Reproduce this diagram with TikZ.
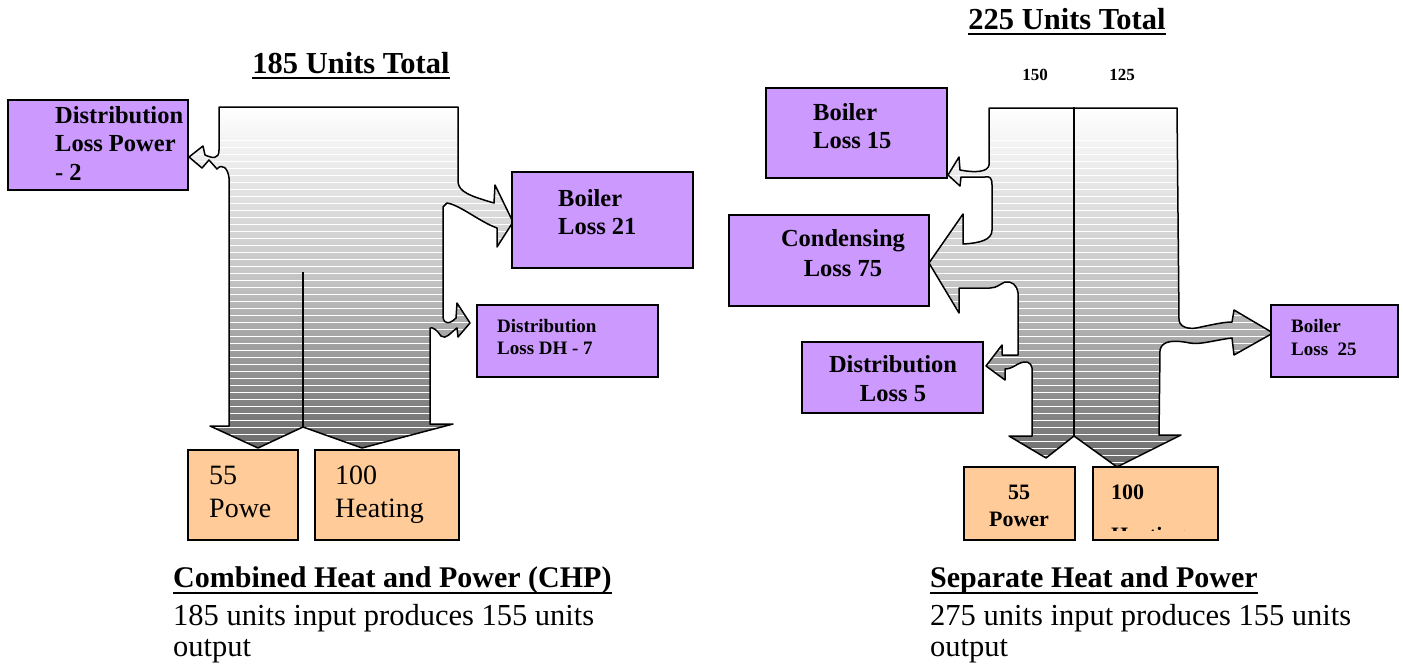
\documentclass[tikz,border=0pt]{standalone}
\usepackage{fontspec}
\setmainfont{Liberation Serif}
\definecolor{lilac}{HTML}{CC99FF}
\definecolor{peach}{HTML}{FFCC99}
\definecolor{flowgray}{HTML}{6A6A6A}
\definecolor{flowmid}{HTML}{C4C4C4}
\tikzset{
  pbox/.style={draw=black, line width=1.6pt, fill=lilac, rectangle},
  obox/.style={draw=black, line width=1.6pt, fill=peach, rectangle},
  flow/.style={draw=black, line width=1.5pt, line join=round},
  flowshade/.style={top color=white, bottom color=flowgray, middle color=flowmid},
  lbl/.style={inner sep=0pt, align=left, anchor=north west},
  clbl/.style={inner sep=0pt, align=center, anchor=north},
  bigb/.style={font=\fontsize{24.5pt}{28.5pt}\selectfont\bfseries},
  smallb/.style={font=\fontsize{19pt}{22.5pt}\selectfont\bfseries},
  titlef/.style={inner sep=0pt, font=\fontsize{30.5pt}{34pt}\selectfont\bfseries},
  capf/.style={inner sep=0pt, font=\fontsize{30pt}{34pt}\selectfont\bfseries},
  bodyf/.style={inner sep=0pt, align=left, anchor=north west, font=\fontsize{30.5pt}{31.5pt}\selectfont},
  uline/.style={line width=2.2pt},
  stripe/.style={white, line width=1pt}
}
\newcommand\chpflowpath{(219,107) -- (458,107) -- (458,182)
 .. controls (459,192) and (470,196) .. (494,203) -- (495,185) -- (513,222) -- (497,247) -- (497,228)
 .. controls (480,222) and (460,205) .. (447,203) -- (443,207) -- (443,317)
 .. controls (444,325) and (450,324) .. (456,318) -- (457,303) -- (470,323) -- (458,337) -- (457,328)
 .. controls (450,333) and (446,340) .. (441,336) .. controls (437,330) and (433,327) .. (430,328)
 -- (430,424) -- (453,424) -- (362,448) -- (303,427) -- (258,448) -- (210,426) -- (229,426)
 -- (229,178) .. controls (228,168) and (222,163) .. (217,169) -- (209,160) -- (202,168) -- (189,157)
 -- (203,146) -- (205,155) .. controls (212,158) and (219,160) .. (219,150) -- cycle}
\newcommand\sepflowpath{(989,108) -- (1177,108) -- (1179,320)
 .. controls (1180,328) and (1190,330) .. (1201,327) .. controls (1215,324) and (1225,322) .. (1232,322)
 -- (1234,310) -- (1273,333) -- (1234,355) -- (1232,338)
 .. controls (1215,340) and (1200,345) .. (1190,343) .. controls (1175,340) and (1162,340) .. (1160,350)
 -- (1159,435) -- (1181,435) -- (1117,467) -- (1074,436) -- (1046,458) -- (1009,436) -- (1032,436)
 -- (1032,368) .. controls (1031,362) and (1026,360) .. (1018,364) .. controls (1012,368) and (1008,369) .. (1005,369)
 -- (1005,380) -- (986,366) -- (1002,345) -- (1002,355) -- (1018,355) -- (1018,293)
 .. controls (1017,285) and (1012,281) .. (1005,282) .. controls (1000,284) and (997,288) .. (990,288)
 -- (959,288) -- (959,313) -- (929,263) -- (963,214) -- (963,244)
 .. controls (980,243) and (992,240) .. (992,230) -- (992,185)
 .. controls (992,178) and (990,176) .. (985,177) -- (961,177) -- (960,186) -- (948,175) -- (959,157) -- (960,170)
 .. controls (975,173) and (988,172) .. (989,165) -- cycle}
\begin{document}
\begin{tikzpicture}[x=1pt, y=-1pt]
\useasboundingbox (0,0) rectangle (1403,664);

% ---------------- Left: CHP ----------------
\shade[flowshade] \chpflowpath;
\begin{scope}
 \clip \chpflowpath;
 \foreach \yy in {140,147,...,450} {\draw[stripe] (180,\yy) -- (520,\yy);}
\end{scope}
\draw[flow] \chpflowpath;
\draw[line width=1.5pt] (303,272) -- (303,427);

\node[pbox, minimum width=180pt, minimum height=90pt] (dlp) at (98,145) {};
\node[lbl, bigb] (dlpt) at (55,106) {Distribution\\Loss Power\\- 2};
\node[pbox, minimum width=181pt, minimum height=96pt] (bl21) at (602.5,220) {};
\node[lbl, bigb] (bl21t) at (558,189) {Boiler\\Loss 21};
\node[pbox, minimum width=181pt, minimum height=72pt] (dh) at (567.5,341) {};
\node[lbl, smallb] (dht) at (497,319) {Distribution\\Loss DH - 7};
\node[obox, minimum width=110pt, minimum height=90pt] (p55) at (243,495) {};
\node[lbl, font=\fontsize{28pt}{33pt}\selectfont] (p55t) at (209,466) {55\\Powe};
\node[obox, minimum width=144pt, minimum height=90pt] (h100) at (387,495) {};
\node[lbl, font=\fontsize{28pt}{33pt}\selectfont] (h100t) at (335,466) {100\\Heating};

\node[titlef, anchor=base] (t1) at (351,73) {185 Units Total};
\draw[uline] ([yshift=-5pt]t1.base west) -- ([yshift=-5pt]t1.base east);

\node[capf, anchor=base west] (c1) at (173,587) {Combined Heat and Power (CHP)};
\draw[uline] ([yshift=-6pt]c1.base west) -- ([yshift=-6pt]c1.base east);
\node[bodyf] (c1b) at (173,604) {185 units input produces 155 units\\output};

% ---------------- Right: Separate ----------------
\shade[flowshade] \sepflowpath;
\begin{scope}
 \clip \sepflowpath;
 \foreach \yy in {140,147,...,470} {\draw[stripe] (920,\yy) -- (1280,\yy);}
\end{scope}
\draw[flow] \sepflowpath;
\draw[line width=1.5pt] (1074,107) -- (1074,436);

\node[pbox, minimum width=181pt, minimum height=90pt] (bl15) at (856.5,133) {};
\node[lbl, bigb] (bl15t) at (813,103) {Boiler\\Loss 15};
\node[pbox, minimum width=200pt, minimum height=91pt] (cl75) at (829,260.5) {};
\node[clbl, font=\fontsize{24.5pt}{30pt}\selectfont\bfseries] (cl75t) at (843,229) {Condensing\\Loss 75};
\node[pbox, minimum width=181pt, minimum height=71pt] (dl5) at (892.5,377.5) {};
\node[clbl, font=\fontsize{24.5pt}{29pt}\selectfont\bfseries] (dl5t) at (893,355) {Distribution\\Loss 5};
\node[pbox, minimum width=127pt, minimum height=72pt] (bl25) at (1334.5,341) {};
\node[lbl, font=\fontsize{19pt}{23pt}\selectfont\bfseries] (bl25t) at (1291,319) {Boiler\\Loss\ \ 25};
\node[obox, minimum width=111pt, minimum height=73pt] (p55r) at (1019.5,503.5) {};
\node[clbl, font=\fontsize{22pt}{27pt}\selectfont\bfseries] (p55rt) at (1019,485) {55\\Power};
\node[obox, minimum width=125pt, minimum height=73pt] (h100r) at (1155.5,503.5) {};
\node[lbl, font=\fontsize{22pt}{27pt}\selectfont\bfseries] (h100rt) at (1111,485) {100};
\begin{scope}
 \clip (1095,468) rectangle (1216,530.5);
 \node[inner sep=0pt, anchor=base west, font=\fontsize{22pt}{27pt}\selectfont\bfseries] (h100rh) at (1111,542) {Heating};
\end{scope}

\node[titlef, anchor=base] (t2) at (1067,29) {225 Units Total};
\draw[uline] ([yshift=-5pt]t2.base west) -- ([yshift=-5pt]t2.base east);
\node[inner sep=0pt, anchor=base, font=\fontsize{17pt}{20pt}\selectfont\bfseries] (n150) at (1035,80) {150};
\node[inner sep=0pt, anchor=base, font=\fontsize{17pt}{20pt}\selectfont\bfseries] (n125) at (1122,80) {125};

\node[capf, anchor=base west] (c2) at (930,587) {Separate Heat and Power};
\draw[uline] ([yshift=-6pt]c2.base west) -- ([yshift=-6pt]c2.base east);
\node[bodyf] (c2b) at (930,604) {275 units input produces 155 units\\output};
\end{tikzpicture}
\end{document}
